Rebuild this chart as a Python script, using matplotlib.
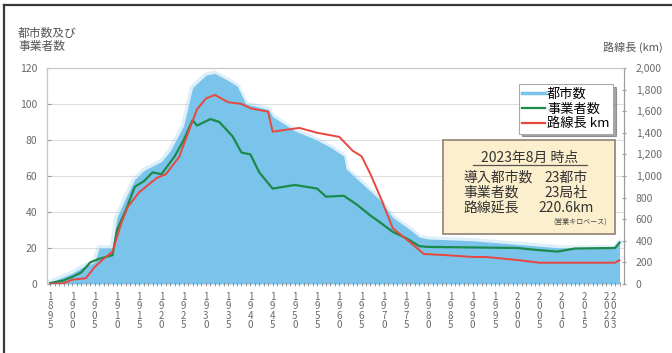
import matplotlib.pyplot as plt
from matplotlib.lines import Line2D
from matplotlib.patches import Rectangle
from matplotlib.transforms import ScaledTranslation

plt.rcParams['font.family'] = ['Noto Sans CJK JP', 'DejaVu Sans']

# 都市数 (blue area)
city_years = [1895, 1900, 1902, 1905, 1906, 1909, 1910, 1912, 1914, 1916, 1920, 1922, 1925,
              1927, 1930, 1932, 1935, 1937, 1939, 1944, 1945, 1950, 1954, 1958, 1961,
              1961.5, 1965, 1969, 1972, 1976, 1978, 1980, 1990, 2000, 2005, 2010, 2020,
              2022, 2023]
city_counts = [1, 6, 9, 12, 20, 20, 37, 48, 58, 63, 68, 74, 88,
               109, 116, 117, 113, 110, 100, 97, 93, 85, 81, 76, 71,
               64, 56, 47, 37, 30, 26, 25, 24, 22, 21, 20, 20,
               20, 23]

# 事業者数 (green line)
op_years = [1895, 1898, 1900, 1902, 1904, 1906, 1909, 1910, 1912, 1914, 1916, 1918, 1920,
            1923, 1925, 1927, 1928, 1931, 1933, 1936, 1938, 1940, 1942, 1945, 1950,
            1955, 1957, 1961, 1964, 1967, 1969, 1972, 1975, 1978, 1980, 2000, 2004,
            2009, 2013, 2022, 2023]
op_counts = [0.5, 2, 4, 6.5, 12, 14, 16, 30, 41, 54, 57, 62, 61,
             71, 80, 91, 88, 91.6, 90, 82, 73, 72, 62, 53, 55,
             53, 48.5, 49, 44, 38, 34.5, 29, 25.5, 21, 20.6, 20, 19,
             18, 19.7, 20, 23]

# 路線長 km (red line)
km_years = [1895, 1898, 1900, 1903, 1905, 1907, 1909, 1911, 1912.5, 1915, 1917, 1919, 1921,
            1924, 1926, 1928, 1930, 1932, 1935, 1938, 1940, 1944, 1945, 1951, 1955,
            1960, 1963, 1965, 1967, 1969.5, 1972, 1974, 1976, 1979, 1984, 1990, 1993,
            2000, 2005, 2022, 2023]
km_values = [0, 8, 40, 53, 158, 233, 300, 567, 717, 850, 917, 983, 1017,
             1177, 1400, 1617, 1717, 1750, 1683, 1667, 1627, 1595, 1410, 1445, 1400,
             1362, 1233, 1183, 1017, 778, 517, 450, 383, 278, 267, 250, 250,
             222, 197, 197, 220]

tick_years = list(range(1895, 2021, 5)) + [2023]
left_ticks = [0, 20, 40, 60, 80, 100, 120]
right_ticks = list(range(0, 2001, 200))

info_title = '2023年8月 時点'
info_labels = ['導入都市数', '事業者数', '路線延長']
info_values = ['23都市', '23局社', '220.6km']
info_note = '(営業キロベース)'

blue = '#7ac3ea'
green = '#1b8a4b'
red = '#e8473d'
gray = '#6a6a6a'

fig = plt.figure(figsize=(6.72, 3.53), dpi=100)
ax = fig.add_axes([0.0695, 0.1955, 0.859, 0.612])
ax2 = ax.twinx()

ax.set_xlim(1894.2, 2024)
ax.set_ylim(0, 120)
ax2.set_ylim(0, 2000)

# grid
for v in left_ticks[1:-1]:
    ax.axhline(v, color='#dedede', lw=0.8, zorder=0)

# blue area with a soft edge
ax.plot(city_years, city_counts, color=blue, lw=4, alpha=0.25, zorder=1,
        solid_joinstyle='round')
ax.fill_between(city_years, 0, city_counts, color=blue, lw=0, zorder=1)

ax.plot(op_years, op_counts, color=green, lw=1.6, zorder=3)
ax2.plot(km_years, km_values, color=red, lw=1.4, zorder=3)

# spines / ticks
for s in ['left', 'right', 'top', 'bottom']:
    ax.spines[s].set_color('#c8c8c8')
    ax2.spines[s].set_color('#c8c8c8')
ax.spines['left'].set_color('#9a9a9a')
ax2.spines['right'].set_color('#9a9a9a')
ax.spines['bottom'].set_visible(False)
ax2.spines['bottom'].set_visible(False)

ax.set_yticks(left_ticks)
ax.tick_params(axis='y', colors='#9a9a9a', labelcolor=gray, labelsize=7.5,
               length=3, direction='in', pad=7)
ax2.set_yticks(right_ticks)
ax2.set_yticklabels([f'{v:,}' for v in right_ticks])
ax2.tick_params(axis='y', colors='#9a9a9a', labelcolor=gray, labelsize=7.5,
                length=3, direction='inout', pad=7)

ax.set_xticks(tick_years)
ax.set_xticklabels(['\n'.join(str(y)) for y in tick_years], linespacing=0.95)
ax.set_xticks(range(1895, 2024), minor=True)
ax.tick_params(axis='x', which='both', colors='#8a8a8a', direction='inout', length=3,
               width=0.6, labelcolor=gray, labelsize=7, pad=4)
# 2023 label sits right next to 2020
lab = ax.get_xticklabels()[-1]
lab.set_transform(lab.get_transform() + ScaledTranslation(-6 / 100, 0, fig.dpi_scale_trans))

# axis titles
fig.text(18 / 672, 1 - 40 / 353, '都市数及び\n事業者数', fontsize=8.5, color='#555555',
         va='center', ha='left', linespacing=1.0)
fig.text(603 / 672, 1 - 47 / 353, '路線長 (km)', fontsize=8, color='#555555',
         va='center', ha='left')

# legend
handles = [Line2D([], [], color=blue, lw=2.5),
           Line2D([], [], color=green, lw=1.6),
           Line2D([], [], color=red, lw=1.6)]
leg = ax2.legend(handles, ['都市数', '事業者数', '路線長 km'], loc='upper right',
                 bbox_to_anchor=(0.981, 0.925), fontsize=9.5, frameon=True,
                 fancybox=False, shadow=True, handlelength=1.7, handletextpad=0.2,
                 labelspacing=0.15, borderpad=0.25, borderaxespad=0)
leg.get_frame().set_edgecolor('#aaaaaa')
leg.get_frame().set_linewidth(0.8)
leg.set_zorder(6)

# info box
box = Rectangle((0.686, 0.231), 0.298, 0.436, transform=ax2.transAxes,
                facecolor='#fcefcd', edgecolor='#8d8373', lw=1.2, zorder=5)
ax2.add_patch(box)
ax2.text(0.837, 0.583, info_title, transform=ax2.transAxes, ha='center', va='center',
         fontsize=10, color='#333333', zorder=6)
ax2.plot([0.738, 0.936], [0.553, 0.553], transform=ax2.transAxes, color='#555555',
         lw=0.9, zorder=6)
for i, (lbl, val) in enumerate(zip(info_labels, info_values)):
    yy = 0.491 - i * 0.07
    ax2.text(0.722, yy, lbl, transform=ax2.transAxes, ha='left', va='center',
             fontsize=10, color='#333333', zorder=6)
    ax2.text(0.899, yy, val, transform=ax2.transAxes, ha='center', va='center',
             fontsize=10, color='#333333', zorder=6)
ax2.text(0.971, 0.287, info_note, transform=ax2.transAxes, ha='right', va='center',
         fontsize=5, color='#444444', zorder=6)

# outer frame (top and left edges visible)
fig.add_artist(Line2D([4 / 672, 1], [1 - 5 / 353, 1 - 5 / 353], transform=fig.transFigure,
                      color='#3a3a3a', lw=1.6))
fig.add_artist(Line2D([4 / 672, 4 / 672], [0, 1 - 5 / 353], transform=fig.transFigure,
                      color='#3a3a3a', lw=1.6))

fig.savefig('out.png', dpi=100)
